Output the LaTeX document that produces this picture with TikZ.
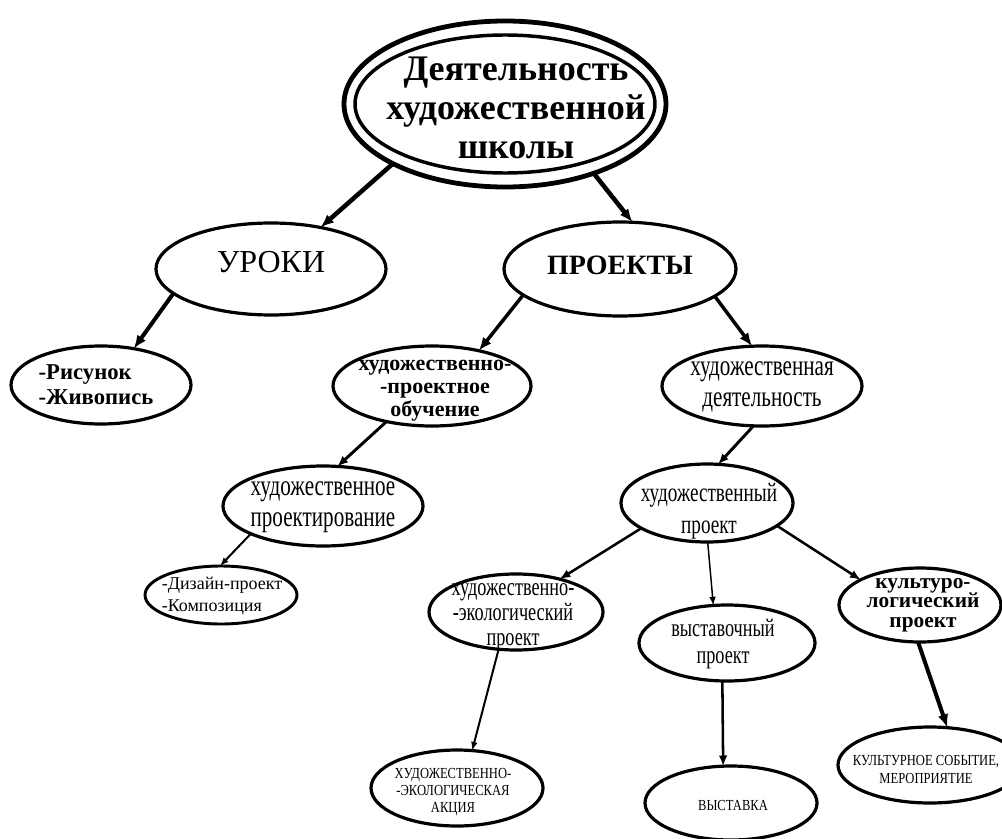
\documentclass[tikz,border=0pt]{standalone}
\usepackage{fontspec}
\setmainfont{Liberation Serif}
\newfontfamily\narrowf[FakeStretch=0.72]{Liberation Serif}
\newfontfamily\capsf[FakeStretch=0.82]{Liberation Serif}
\usetikzlibrary{shapes.geometric,arrows.meta}
\begin{document}
\begin{tikzpicture}[x=0.75pt,y=-0.75pt,
  ell/.style={ellipse, draw=black, line width=2.4pt, fill=white, inner sep=0pt, outer sep=0pt},
  sz/.style n args={2}{minimum width=#1*0.75pt, minimum height=#2*0.75pt},
  lbl/.style={inner sep=0pt, align=center, text=black},
  lbll/.style={inner sep=0pt, align=left, text=black},
  conn/.style={draw=black},
  bighead/.style={-{Latex[length=10pt,width=8pt]}},
  midhead/.style={-{Latex[length=8pt,width=6.5pt]}},
  smallhead/.style={-{Latex[length=6.5pt,width=5pt]}},
]
\fill[white] (0,0) rectangle (1002,838);
\useasboundingbox (0,0) rectangle (1002,838);

% ellipses
\node[ell, sz={322}{166}, line width=3.6pt] (top) at (505,104) {};
\node[ell, sz={300}{138}, line width=2.6pt] (topin) at (505,104) {};
\node[ell, sz={230}{92}] (uroki) at (271,269) {};
\node[ell, sz={232}{94}] (proekty) at (620,269) {};
\node[ell, sz={180}{78}] (risunok) at (101,385) {};
\node[ell, sz={198}{80}] (hpo) at (432,386) {};
\node[ell, sz={200}{80}] (hd) at (762,386) {};
\node[ell, sz={200}{80}] (hpr) at (323,506) {};
\node[ell, sz={152}{58}, line width=2.2pt] (dizain) at (221,595) {};
\node[ell, sz={172}{78}] (hp) at (707,503) {};
\node[ell, sz={174}{76}] (eko) at (516,612) {};
\node[ell, sz={176}{76}] (vyst) at (727,643) {};
\node[ell, sz={162}{74}] (kult) at (920,605) {};
\node[ell, sz={172}{76}] (akc) at (457,788) {};
\node[ell, sz={172}{74}] (vystavka) at (731,803) {};
\node[ell, sz={184}{76}] (kultsob) at (930,765) {};

% texts
\node[lbl, font=\fontsize{27}{29}\selectfont\bfseries] (ttop) at (516,108) {Деятельность\\художественной\\школы};
\node[lbl, font=\fontsize{24}{26}\selectfont] (turoki) at (271,262) {УРОКИ};
\node[lbl, font=\fontsize{21}{23}\selectfont\bfseries] (tproekty) at (620,265) {ПРОЕКТЫ};
\node[lbll, font=\fontsize{17}{19}\selectfont\bfseries] (trisunok) at (96,385) {-Рисунок\\-Живопись};
\node[lbl, font=\fontsize{16.5}{17.25}\selectfont\bfseries] (thpo) at (435,391) {художественно-\\-проектное\\обучение};
\node[lbl, font=\narrowf\fontsize{22}{23.25}\selectfont] (thd) at (762,387) {художественная\\деятельность};
\node[lbl, font=\narrowf\fontsize{22}{23.25}\selectfont] (thpr) at (323,507) {художественное\\проектирование};
\node[lbll, font=\fontsize{13.5}{16.5}\selectfont] (tdizain) at (222,596) {-Дизайн-проект\\-Композиция};
\node[lbl, font=\narrowf\fontsize{20}{24}\selectfont] (thp) at (709,511) {художественный\\проект};
\node[lbl, font=\narrowf\fontsize{19}{18.75}\selectfont] (teko) at (513,617) {художественно-\\-экологический\\проект};
\node[lbl, font=\narrowf\fontsize{19}{20.25}\selectfont] (tvyst) at (723,644) {выставочный\\проект};
\node[lbl, font=\fontsize{16}{14.5}\selectfont\bfseries] (tkult) at (923,605) {культуро-\\логический\\проект};
\node[lbl, font=\capsf\fontsize{11.5}{12.75}\selectfont] (takc) at (453,792) {ХУДОЖЕСТВЕННО-\\-ЭКОЛОГИЧЕСКАЯ\\АКЦИЯ};
\node[lbl, font=\capsf\fontsize{11.5}{13.5}\selectfont] (tvystavka) at (733,805) {ВЫСТАВКА};
\node[lbl, font=\capsf\fontsize{11.5}{13.5}\selectfont] (tkultsob) at (926,769) {КУЛЬТУРНОЕ СОБЫТИЕ,\\МЕРОПРИЯТИЕ};

% connectors
\draw[conn, bighead, line width=3.4pt] (top.208) -- (uroki.40);
\draw[conn, bighead, line width=3.4pt] (top.322) -- (proekty.75);
\draw[conn, bighead, line width=3pt] (uroki.194) -- (risunok.48);
\draw[conn, bighead, line width=2.6pt] (proekty.195) -- (hpo.37);
\draw[conn, bighead, line width=2.6pt] (proekty.344) -- (hd.104);
\draw[conn, midhead, line width=2.2pt] (hpo.218) -- (hpr.70);
\draw[conn, midhead, line width=2.2pt] (hd.258) -- (hp.74);
\draw[conn, smallhead, line width=1.5pt] (hpr.201) -- (dizain.92);
\draw[conn, midhead, line width=1.9pt] (hp.201) -- (eko.37);
\draw[conn, smallhead, line width=1.1pt] (hp.271) -- (vyst.110);
\draw[conn, midhead, line width=1.9pt] (hp.342) -- (kult.157);
\draw[conn, smallhead, line width=1.5pt] (eko.245) -- (akc.68);
\draw[conn, midhead, line width=1.9pt] (vyst.263) -- (vystavka.102);
\draw[conn, bighead, line width=3pt] (kult.267) -- (kultsob.65);
\end{tikzpicture}
\end{document}
